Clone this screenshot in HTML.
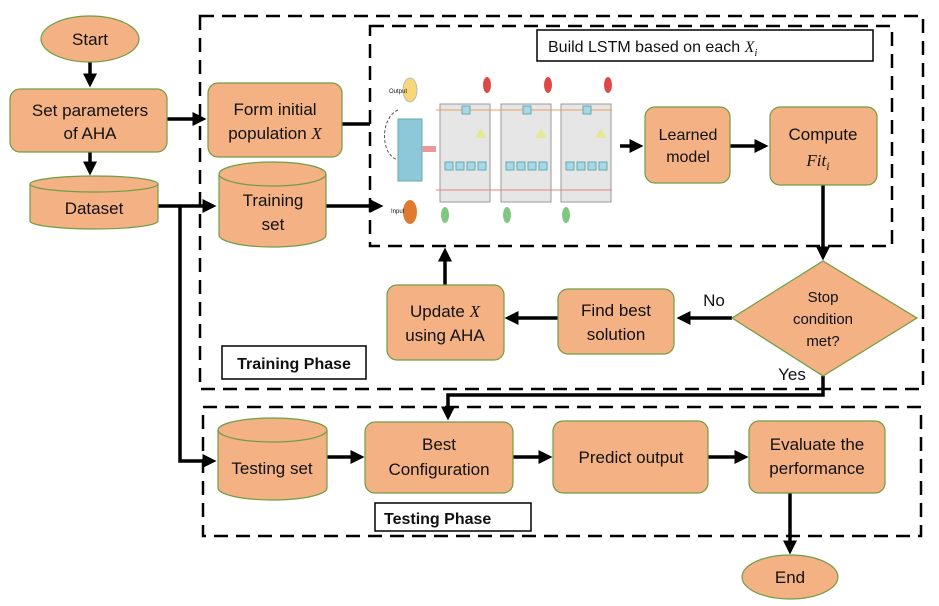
<!DOCTYPE html>
<html><head><meta charset="utf-8"><style>
html,body{margin:0;padding:0;background:#fff}
svg{display:block}
text{font-family:"Liberation Sans","DejaVu Sans",sans-serif;fill:#111}
.n{fill:#F4B183;stroke:#6E9E45;stroke-width:1.2}
.t{font-size:17px;text-anchor:middle}
.l{stroke:#000;stroke-width:3.5;fill:none}
.d{stroke:#000;stroke-width:2.5;fill:none;stroke-dasharray:14 8}
.m{font-family:"Liberation Serif",serif;font-style:italic}
</style></head><body>
<svg width="939" height="606" viewBox="0 0 939 606" xmlns="http://www.w3.org/2000/svg">
<defs><marker id="a" markerWidth="4" markerHeight="4" refX="3" refY="2" orient="auto" markerUnits="strokeWidth"><path d="M0,0 L4,2 L0,4 z" fill="#000"/></marker></defs>
<!-- dashed boxes -->
<rect class="d" x="200" y="16" width="723" height="373"/>
<rect class="d" x="370" y="26" width="522" height="220"/>
<rect class="d" x="203" y="407" width="718" height="129"/>
<!-- labels -->
<rect x="537" y="30" width="336" height="31" fill="#fff" stroke="#000" stroke-width="1.5"/>
<text x="548" y="52" style="font-size:16px">Build LSTM based on each <tspan class="m">X</tspan><tspan class="m" style="font-size:11px" dy="4">i</tspan></text>
<rect x="222" y="346" width="144" height="33" fill="#fff" stroke="#000" stroke-width="1.5"/>
<text x="294" y="369" class="t" style="font-weight:bold;font-size:16px">Training Phase</text>
<rect x="375" y="503" width="156" height="28" fill="#fff" stroke="#000" stroke-width="1.5"/>
<text x="384" y="524" style="font-weight:bold;font-size:16px">Testing Phase</text>
<!-- connectors -->
<line class="l" x1="90" y1="62" x2="90" y2="84" marker-end="url(#a)"/>
<line class="l" x1="90" y1="152" x2="90" y2="172" marker-end="url(#a)"/>
<line class="l" x1="167" y1="119" x2="203" y2="119" marker-end="url(#a)"/>
<line class="l" x1="342" y1="124" x2="370" y2="124"/>
<polyline class="l" points="158,206 213,206" marker-end="url(#a)"/>
<polyline class="l" points="180,206 180,461 213,461" marker-end="url(#a)"/>
<line class="l" x1="326" y1="206" x2="380" y2="206" marker-end="url(#a)"/>
<line class="l" x1="620" y1="146" x2="640" y2="146" marker-end="url(#a)"/>
<line class="l" x1="730" y1="146" x2="765" y2="146" marker-end="url(#a)"/>
<line class="l" x1="823" y1="185" x2="823" y2="257" marker-end="url(#a)"/>
<line class="l" x1="732" y1="318" x2="680" y2="318" marker-end="url(#a)"/>
<line class="l" x1="558" y1="318" x2="508" y2="318" marker-end="url(#a)"/>
<line class="l" x1="445" y1="285" x2="445" y2="251" marker-end="url(#a)"/>
<polyline class="l" points="823,376 823,395 448,395 448,417" marker-end="url(#a)"/>
<line class="l" x1="327" y1="457" x2="361" y2="457" marker-end="url(#a)"/>
<line class="l" x1="513" y1="457" x2="549" y2="457" marker-end="url(#a)"/>
<line class="l" x1="708" y1="457" x2="745" y2="457" marker-end="url(#a)"/>
<line class="l" x1="790" y1="493" x2="790" y2="551" marker-end="url(#a)"/>
<text x="714" y="306" class="t">No</text>
<text x="792" y="380" class="t">Yes</text>
<!-- nodes -->
<ellipse class="n" cx="90" cy="39" rx="49" ry="23"/><text x="90" y="45" class="t">Start</text>
<rect class="n" x="10" y="89" width="157" height="63" rx="10"/>
<text x="90" y="116" class="t">Set parameters</text><text x="90" y="139" class="t">of AHA</text>
<path class="n" d="M30,184 A64,8 0 0 1 158,184 V221 A64,8 0 0 1 30,221 Z"/><path d="M30,184 A64,8 0 0 0 158,184" fill="none" stroke="#6E9E45" stroke-width="1.2"/>
<text x="94" y="214" class="t">Dataset</text>
<rect class="n" x="208" y="83" width="134" height="74" rx="10"/>
<text x="275" y="115" class="t">Form initial</text><text x="275" y="139" class="t">population <tspan class="m">X</tspan></text>
<path class="n" d="M219,174 A53.5,12 0 0 1 326,174 V235 A53.5,12 0 0 1 219,235 Z"/><path d="M219,174 A53.5,12 0 0 0 326,174" fill="none" stroke="#6E9E45" stroke-width="1.2"/>
<text x="273" y="206" class="t">Training</text><text x="273" y="230" class="t">set</text>
<rect class="n" x="645" y="107" width="85" height="76" rx="10"/>
<text x="688" y="140" class="t" style="font-size:16px">Learned</text><text x="688" y="162" class="t" style="font-size:16px">model</text>
<rect class="n" x="770" y="107" width="107" height="78" rx="10"/>
<text x="823" y="140" class="t">Compute</text><text x="818" y="166" class="t m">Fit<tspan style="font-size:12px" dy="4">i</tspan></text>
<polygon class="n" points="823,261 917,318 823,376 732,318"/>
<text x="823" y="302" class="t" style="font-size:15px">Stop</text><text x="823" y="324" class="t" style="font-size:15px">condition</text><text x="823" y="346" class="t" style="font-size:15px">met?</text>
<rect class="n" x="558" y="289" width="116" height="65" rx="10"/>
<text x="616" y="316" class="t">Find  best</text><text x="616" y="340" class="t">solution</text>
<rect class="n" x="387" y="285" width="117" height="75" rx="10"/>
<text x="445" y="317" class="t">Update <tspan class="m">X</tspan></text><text x="445" y="341" class="t">using AHA</text>
<path class="n" d="M218,430 A54.5,12 0 0 1 327,430 V488 A54.5,12 0 0 1 218,488 Z"/><path d="M218,430 A54.5,12 0 0 0 327,430" fill="none" stroke="#6E9E45" stroke-width="1.2"/>
<text x="272" y="474" class="t">Testing set</text>
<rect class="n" x="365" y="422" width="148" height="71" rx="10"/>
<text x="439" y="450" class="t">Best</text><text x="439" y="475" class="t">Configuration</text>
<rect class="n" x="553" y="421" width="155" height="72" rx="10"/>
<text x="631" y="463" class="t">Predict output</text>
<rect class="n" x="749" y="421" width="136" height="72" rx="10"/>
<text x="817" y="450" class="t">Evaluate the</text><text x="817" y="474" class="t">performance</text>
<ellipse class="n" cx="790" cy="577" rx="48" ry="22"/><text x="790" y="583" class="t">End</text>
<!-- LSTM image approximation -->
<g>
<ellipse cx="410" cy="90" rx="7" ry="12" fill="#F7D777" stroke="#bbb"/>
<ellipse cx="410" cy="212" rx="7" ry="12" fill="#E07A30"/>
<text x="389" y="93" style="font-size:6px">Output</text><text x="391" y="213" style="font-size:6px">Input</text>
<path d="M398,110 C380,118 380,155 398,160" fill="none" stroke="#555" stroke-dasharray="3 2"/>
<rect x="398" y="119" width="24" height="62" fill="#8CC8DA" stroke="#6aa"/>
<rect x="422" y="146" width="14" height="6" fill="#E89A9A"/>
<g fill="#E6E6E6" stroke="#999">
<rect x="440" y="104" width="50" height="98"/>
<rect x="501" y="104" width="50" height="98"/>
<rect x="561" y="104" width="50" height="98"/>
</g>
<line x1="436" y1="110" x2="612" y2="110" stroke="#E8A060"/>
<line x1="436" y1="190" x2="612" y2="190" stroke="#E88080"/>
<g fill="#A8D8E8" stroke="#6aa">
<rect x="445" y="162" width="8" height="8"/><rect x="456" y="162" width="8" height="8"/><rect x="467" y="162" width="8" height="8"/><rect x="478" y="162" width="8" height="8"/>
<rect x="506" y="162" width="8" height="8"/><rect x="517" y="162" width="8" height="8"/><rect x="528" y="162" width="8" height="8"/><rect x="539" y="162" width="8" height="8"/>
<rect x="566" y="162" width="8" height="8"/><rect x="577" y="162" width="8" height="8"/><rect x="588" y="162" width="8" height="8"/><rect x="599" y="162" width="8" height="8"/>
<rect x="462" y="106" width="8" height="8"/><rect x="523" y="106" width="8" height="8"/><rect x="583" y="106" width="8" height="8"/>
</g>
<g fill="#E4E89A"><polygon points="481,128 487,138 475,138"/><polygon points="541,128 547,138 535,138"/><polygon points="601,128 607,138 595,138"/></g>
<g fill="#E04848"><ellipse cx="487" cy="85" rx="4" ry="8"/><ellipse cx="548" cy="85" rx="4" ry="8"/><ellipse cx="608" cy="85" rx="4" ry="8"/></g>
<g fill="#80C880"><ellipse cx="445" cy="215" rx="4" ry="8"/><ellipse cx="507" cy="215" rx="4" ry="8"/><ellipse cx="566" cy="215" rx="4" ry="8"/></g>
</g>
</svg>
</body></html>
